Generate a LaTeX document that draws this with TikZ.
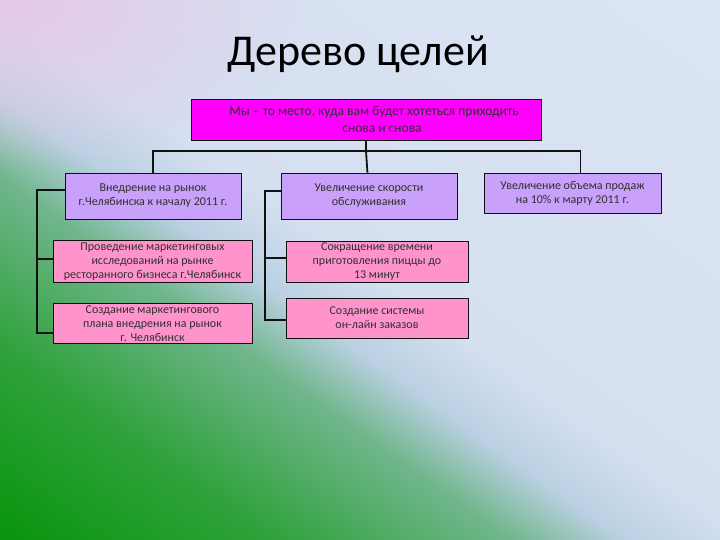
\documentclass[tikz,border=0pt]{standalone}
\usepackage{fontspec}
\setmainfont{Carlito}
\usetikzlibrary{calc,fadings}
\definecolor{goalMagenta}{HTML}{FF00FF}
\definecolor{goalLilac}{HTML}{C9A0FA}
\definecolor{goalPink}{HTML}{FF94CC}
\definecolor{goalLine}{HTML}{111111}
\definecolor{goalText}{HTML}{303030}
\definecolor{bgRose}{HTML}{E6C8EA}
\definecolor{bgG0}{RGB}{8,148,12}
\definecolor{bgG1}{RGB}{48,162,60}
\definecolor{bgG2}{RGB}{112,182,140}
\definecolor{bgG3}{RGB}{186,208,226}
\definecolor{bgG4}{RGB}{212,223,240}
\definecolor{bgG5}{RGB}{220,229,245}
\pgfdeclarehorizontalshading{bgsweep}{1800bp}{color(0bp)=(bgG0); color(160bp)=(bgG1);
  color(295bp)=(bgG2); color(360bp)=(bgG3); color(430bp)=(bgG4); color(900bp)=(bgG5)}
\tikzfading[name=glowfade, inner color=transparent!0, outer color=transparent!100]
\tikzset{
  box/.style={draw=goalLine, line width=0.8pt, align=center, inner sep=2pt,
              text=goalText, font=\fontsize{12}{14}\selectfont},
  top/.style={box, fill=goalMagenta, font=\fontsize{13.5}{16.5}\selectfont},
  goal/.style={box, fill=goalLilac},
  task/.style={box, fill=goalPink},
  tline/.style={draw=goalLine, line width=1.8pt},
}
\begin{document}
\begin{tikzpicture}[x=1pt,y=-1pt]
        \useasboundingbox (0,0) rectangle (720,540);
        \begin{scope}
          \clip (0,0) rectangle (720,540);
          \begin{scope}[shift={(0,540)},rotate=54.6]
            \node[transform shape,inner sep=0pt,anchor=west] (sweep) at (0,0){\pgfuseshading{bgsweep}};
          \end{scope}
          \fill[bgRose,path fading=glowfade] (0,0) ellipse (320 and 170);
        \end{scope}
        \node[font=\fontsize{44}{52}\selectfont,text=black] (title) at (358,54){Дерево целей};
        \node[top,minimum width=350pt,minimum height=41pt] (root) at (366,119.5){\hspace*{16pt}Мы – то место, куда вам будет хотеться приходить\\\hspace*{32pt}снова и снова};
        \node[goal,minimum width=176pt,minimum height=46pt] (g1) at (153,196){Внедрение на рынок\\г.Челябинска к началу 2011 г.};
        \node[goal,minimum width=176pt,minimum height=46pt] (g2) at (369,196){Увеличение скорости\\обслуживания};
        \node[goal,minimum width=177pt,minimum height=40pt] (g3) at (572.5,193){Увеличение объема продаж\\на 10\% к марту 2011 г.};
        \node[task,minimum width=199pt,minimum height=41pt] (t11) at (152.5,261.5){Проведение маркетинговых\\исследований на рынке\\ресторанного бизнеса г.Челябинск};
        \node[task,minimum width=199pt,minimum height=39pt] (t12) at (152.5,323.5){Создание маркетингового\\плана внедрения на рынок\\г. Челябинск};
        \node[task,minimum width=182pt,minimum height=40pt] (t21) at (377,262){Сокращение времени\\приготовления пиццы до\\13 минут};
        \node[task,minimum width=182pt,minimum height=40pt] (t22) at (377,318){Создание системы\\он-лайн заказов};
        \coordinate (hub) at (366,151);
        \draw[tline](root)--(hub);\draw[tline](hub)-|(g1);
        \draw[tline](hub)--(g2);\draw[tline](hub)-|([xshift=8pt]g3.north);
        \draw[tline]([yshift=6pt]g1.west)--++(-28,0)|-([yshift=-9.5pt]t12.west);
        \draw[tline]([yshift=2.5pt]t11.west)--++(-16,0);
        \draw[tline]([yshift=5pt]g2.west)--++(-16,0)|-([yshift=-2pt]t22.west);
        \draw[tline]([yshift=4pt]t21.west)--++(-21,0);
      \end{tikzpicture}
\end{document}
